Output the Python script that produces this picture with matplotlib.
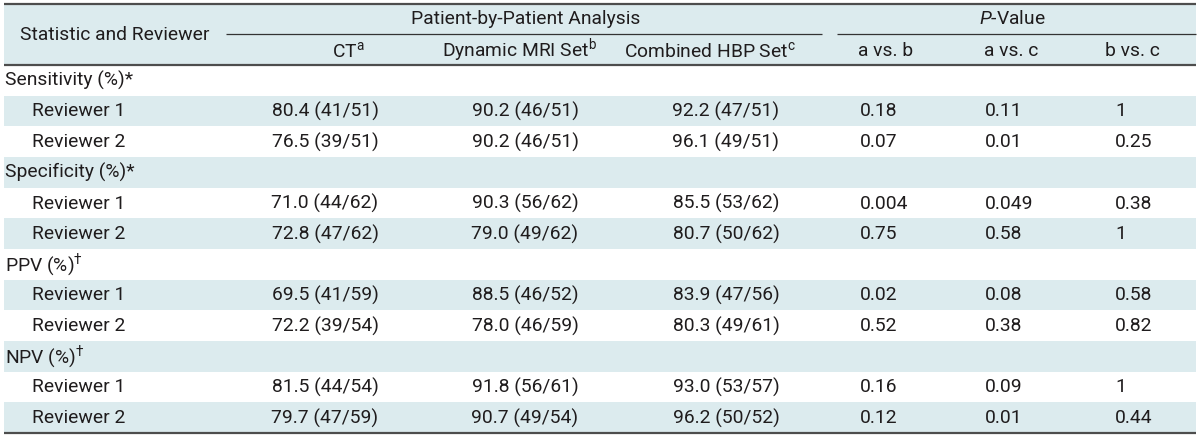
import matplotlib
matplotlib.use("Agg")
import matplotlib.pyplot as plt
from matplotlib.patches import Rectangle

plt.rcParams['font.family'] = ['Roboto', 'DejaVu Sans']
plt.rcParams['mathtext.fontset'] = 'custom'
plt.rcParams['mathtext.rm'] = 'Roboto'
plt.rcParams['mathtext.it'] = 'Roboto:italic'

categories = ["Sensitivity (%)*", "Specificity (%)*", "PPV (%)$^{\u2020}$", "NPV (%)$^{\u2020}$"]
reviewers = ["Reviewer 1", "Reviewer 2"]
ct = ["80.4 (41/51)", "76.5 (39/51)", "71.0 (44/62)", "72.8 (47/62)",
      "69.5 (41/59)", "72.2 (39/54)", "81.5 (44/54)", "79.7 (47/59)"]
dynamic = ["90.2 (46/51)", "90.2 (46/51)", "90.3 (56/62)", "79.0 (49/62)",
           "88.5 (46/52)", "78.0 (46/59)", "91.8 (56/61)", "90.7 (49/54)"]
combined = ["92.2 (47/51)", "96.1 (49/51)", "85.5 (53/62)", "80.7 (50/62)",
            "83.9 (47/56)", "80.3 (49/61)", "93.0 (53/57)", "96.2 (50/52)"]
p_ab = ["0.18", "0.07", "0.004", "0.75", "0.02", "0.52", "0.16", "0.12"]
p_ac = ["0.11", "0.01", "0.049", "0.58", "0.08", "0.38", "0.09", "0.01"]
p_bc = ["1", "0.25", "0.38", "1", "0.58", "0.82", "1", "0.44"]

group_headers = ["Patient-by-Patient Analysis", "$\\it{P}$-Value"]
col_headers = ["CT$^{\\mathrm{a}}$", "Dynamic MRI Set$^{\\mathrm{b}}$",
               "Combined HBP Set$^{\\mathrm{c}}$", "a vs. b", "a vs. c", "b vs. c"]
stub_header = "Statistic and Reviewer"

W, H = 1200, 438
fig = plt.figure(figsize=(W / 100, H / 100), dpi=100)
ax = fig.add_axes([0, 0, 1, 1])
ax.set_xlim(0, W)
ax.set_ylim(H, 0)
ax.axis("off")

bg = "#dcebee"
txt = "#1f1c1d"
fs = 13.9
x0, x1 = 4, 1196
top, hmid, hbot, bot = 4, 34, 65, 433
rh = (bot - hbot) / 12.0

# header background
ax.add_patch(Rectangle((x0, top), x1 - x0, hbot - top, color=bg, lw=0, zorder=0))

# build rows
rows = []
for ci, cat in enumerate(categories):
    rows.append(("cat", cat, None))
    for ri, rv in enumerate(reviewers):
        rows.append(("rev", rv, ci * 2 + ri))

num_centers = [325, 525, 726]
p_left = [860, 985, 1115]
for i, (kind, label, k) in enumerate(rows):
    y0 = hbot + i * rh
    yc = y0 + rh / 2 + 0.5
    if i % 2 == 1:
        ax.add_patch(Rectangle((x0, y0), x1 - x0, rh, color=bg, lw=0, zorder=0))
    if kind == "cat":
        ax.text(5, yc, label, fontsize=fs, color=txt, va="center", ha="left")
    else:
        ax.text(32, yc, label, fontsize=fs, color=txt, va="center", ha="left")
        for xc, arr in zip(num_centers, [ct, dynamic, combined]):
            ax.text(xc, yc, arr[k], fontsize=fs, color=txt, va="center", ha="center")
        for xl, arr in zip(p_left, [p_ab, p_ac, p_bc]):
            ax.text(xl, yc, arr[k], fontsize=fs, color=txt, va="center", ha="left")

# headers
ax.text(20, (top + hbot) / 2, stub_header, fontsize=fs, color=txt, va="center", ha="left")
ax.text(526, (top + hmid) / 2, group_headers[0], fontsize=fs, color=txt, va="center", ha="center")
ax.text(1012, (top + hmid) / 2, group_headers[1], fontsize=fs, color=txt, va="center", ha="center")
hc = [348, 519, 710, 886, 1011, 1132]
for xc, lab in zip(hc, col_headers):
    ax.text(xc, (hmid + hbot) / 2 + 1, lab, fontsize=fs, color=txt, va="center", ha="center")

# lines
for yy in (top, hbot, bot):
    ax.plot([x0, x1], [yy, yy], color="#4d4d4d", lw=1.6, solid_capstyle="butt")
ax.plot([226, 822], [hmid, hmid], color="#333333", lw=0.9, solid_capstyle="butt")
ax.plot([837, x1], [hmid, hmid], color="#333333", lw=0.9, solid_capstyle="butt")

fig.savefig("out.png", dpi=100, facecolor="white")
